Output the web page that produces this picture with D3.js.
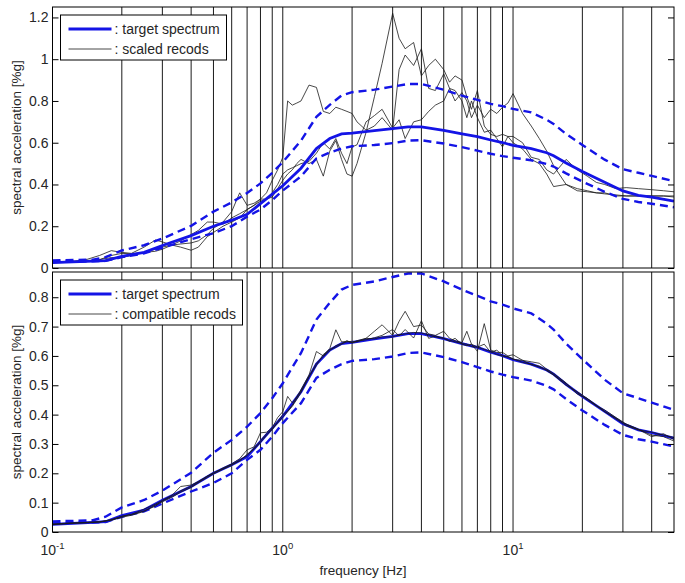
<!DOCTYPE html>
<html><head><meta charset="utf-8">
<script src="https://cdn.jsdelivr.net/npm/d3@7"></script>
<style>
html,body{margin:0;padding:0;background:#fff;}
svg{display:block;font-family:"Liberation Sans",Arial,Helvetica,sans-serif;}
</style></head>
<body>
<svg id="chart" width="685" height="583"></svg>
<script>
// ---------------- data ----------------
const freqTarget = [0.1,0.15,0.17,0.2,0.25,0.3,0.4,0.5,0.6,0.7,0.8,0.9,1.0,1.2,1.4,1.6,1.8,2.0,2.5,3.0,3.5,4.0,5,6,7,8,9,10,12,14,15,17,20,25,30,35,40,50];
const target = [0.026,0.033,0.035,0.056,0.075,0.108,0.155,0.2,0.229,0.257,0.308,0.354,0.394,0.478,0.572,0.62,0.642,0.646,0.658,0.667,0.676,0.676,0.659,0.642,0.629,0.613,0.601,0.587,0.572,0.552,0.538,0.503,0.462,0.411,0.369,0.348,0.339,0.32];
const upperBound = [0.036,0.04,0.052,0.084,0.109,0.141,0.202,0.27,0.314,0.359,0.405,0.456,0.507,0.61,0.724,0.781,0.826,0.842,0.854,0.869,0.881,0.881,0.854,0.826,0.805,0.786,0.775,0.762,0.745,0.71,0.69,0.642,0.589,0.519,0.473,0.456,0.441,0.416];
const lowerBound = [0.03,0.032,0.034,0.052,0.07,0.097,0.138,0.167,0.2,0.246,0.28,0.325,0.371,0.439,0.525,0.553,0.572,0.583,0.589,0.598,0.61,0.612,0.596,0.579,0.562,0.547,0.536,0.528,0.516,0.498,0.486,0.453,0.414,0.365,0.331,0.316,0.308,0.291];

const freqRec = [0.1,0.12,0.14,0.16,0.18,0.2,0.22,0.25,0.28,0.3,0.33,0.36,0.4,0.43,0.47,0.5,0.55,0.6,0.65,0.7,0.75,0.8,0.85,0.9,0.95,1.0,1.05,1.1,1.15,1.2,1.3,1.4,1.5,1.6,1.7,1.8,1.9,2.0,2.1,2.3,2.5,2.7,3.0,3.2,3.4,3.7,4.0,4.3,4.6,5.0,5.3,5.6,6.0,6.3,6.6,7.0,7.5,8.0,8.5,9.0,9.5,10,11,12,13,14,15,17,19,21,23,25,28,31,35,40,45,50];

// scaled records (top panel)
const scaledA = [0.025,0.027,0.03,0.04,0.06,0.07,0.068,0.075,0.09,0.1,0.11,0.115,0.12,0.13,0.16,0.19,0.22,0.27,0.36,0.30,0.31,0.33,0.36,0.42,0.47,0.53,0.80,0.78,0.79,0.80,0.876,0.865,0.75,0.74,0.77,0.76,0.75,0.74,0.70,0.66,0.68,0.72,0.66,0.95,1.02,0.97,1.05,0.86,0.85,0.93,0.86,0.80,0.84,0.80,0.72,0.78,0.72,0.76,0.74,0.77,0.79,0.835,0.74,0.68,0.62,0.56,0.49,0.40,0.38,0.37,0.36,0.355,0.35,0.345,0.345,0.345,0.345,0.34];
const scaledB = [0.025,0.03,0.04,0.06,0.083,0.075,0.07,0.1,0.134,0.125,0.11,0.1,0.085,0.1,0.15,0.17,0.2,0.22,0.24,0.28,0.30,0.32,0.33,0.34,0.38,0.42,0.45,0.47,0.50,0.52,0.50,0.52,0.44,0.56,0.61,0.52,0.45,0.44,0.50,0.65,0.82,0.98,1.22,1.10,1.05,1.08,0.92,0.97,1.0,0.95,0.89,0.92,0.90,0.82,0.76,0.85,0.68,0.64,0.63,0.64,0.63,0.63,0.60,0.53,0.52,0.47,0.45,0.52,0.47,0.44,0.41,0.40,0.38,0.385,0.38,0.375,0.37,0.365];
const scaledC = [0.03,0.032,0.035,0.04,0.05,0.05,0.06,0.075,0.08,0.09,0.11,0.13,0.16,0.18,0.22,0.22,0.21,0.24,0.26,0.28,0.30,0.33,0.33,0.36,0.40,0.45,0.47,0.48,0.49,0.50,0.51,0.55,0.60,0.57,0.62,0.55,0.50,0.58,0.59,0.70,0.73,0.76,0.67,0.71,0.62,0.70,0.71,0.75,0.78,0.80,0.86,0.85,0.80,0.72,0.80,0.72,0.65,0.66,0.62,0.58,0.63,0.60,0.57,0.52,0.50,0.45,0.39,0.40,0.37,0.365,0.36,0.36,0.345,0.345,0.345,0.345,0.345,0.345];

// compatible records (bottom panel)
const compatA = [0.026,0.03,0.032,0.035,0.042,0.054,0.06,0.078,0.095,0.108,0.125,0.155,0.16,0.172,0.19,0.2,0.218,0.232,0.25,0.28,0.29,0.338,0.34,0.355,0.39,0.41,0.462,0.44,0.46,0.485,0.535,0.615,0.60,0.625,0.689,0.648,0.65,0.645,0.652,0.66,0.684,0.706,0.67,0.718,0.752,0.70,0.705,0.675,0.67,0.684,0.66,0.652,0.645,0.684,0.64,0.616,0.71,0.62,0.612,0.612,0.6,0.604,0.585,0.58,0.575,0.555,0.54,0.508,0.47,0.455,0.43,0.416,0.39,0.368,0.35,0.325,0.335,0.315];
const compatB = [0.025,0.029,0.031,0.034,0.04,0.05,0.057,0.07,0.092,0.103,0.118,0.136,0.152,0.168,0.186,0.198,0.214,0.227,0.245,0.26,0.286,0.31,0.335,0.35,0.376,0.40,0.412,0.432,0.458,0.48,0.53,0.568,0.605,0.622,0.63,0.64,0.652,0.644,0.65,0.655,0.662,0.67,0.69,0.668,0.69,0.661,0.72,0.66,0.668,0.66,0.65,0.66,0.64,0.635,0.64,0.63,0.64,0.612,0.62,0.6,0.598,0.59,0.578,0.572,0.562,0.552,0.536,0.505,0.475,0.45,0.43,0.41,0.385,0.362,0.348,0.34,0.33,0.322];
const compatC = [0.027,0.031,0.033,0.034,0.041,0.053,0.059,0.072,0.088,0.106,0.122,0.14,0.156,0.17,0.19,0.202,0.216,0.23,0.242,0.265,0.282,0.305,0.33,0.35,0.372,0.392,0.41,0.428,0.452,0.476,0.528,0.575,0.598,0.618,0.635,0.642,0.648,0.65,0.648,0.66,0.658,0.665,0.665,0.672,0.675,0.68,0.678,0.672,0.665,0.66,0.652,0.648,0.642,0.64,0.632,0.63,0.622,0.615,0.605,0.6,0.596,0.588,0.585,0.57,0.565,0.55,0.535,0.5,0.478,0.455,0.432,0.41,0.388,0.366,0.35,0.33,0.325,0.31];

const gridFreqs = [0.2,0.3,0.4,0.5,0.6,0.7,0.8,0.9,1,2,3,4,5,6,7,8,9,10,20,30,40];
const xTickVals = [0.1,1,10];
const xTickExp = ["-1","0","1"];
const yTicksTop = [0,0.2,0.4,0.6,0.8,1,1.2];
const yTicksBot = [0,0.1,0.2,0.3,0.4,0.5,0.6,0.7,0.8];
const legendTop = [": target spectrum", ": scaled recods"];
const legendBot = [": target spectrum", ": compatible recods"];

// ---------------- drawing ----------------
const svg = d3.select("#chart");
const BLUE = "#1414e6";
const TXT = "#262626";
const FS = "14px";
const L = 52.5, R = 674;
const x = d3.scaleLog().domain([0.1, 50]).range([L, R]);

function zip(fr, vals){ return fr.map((f,i)=>[f, vals[i]]); }

function panel(id, top, bottom, yMax, yTicks, records, legendText, legendW, recordsOnTop){
  const y = d3.scaleLinear().domain([0, yMax]).range([bottom, top]);
  const g = svg.append("g");
  g.append("clipPath").attr("id", "clip"+id).append("rect")
    .attr("x", L).attr("y", top).attr("width", R-L).attr("height", bottom-top);

  // vertical grid
  g.append("g").selectAll("line").data(gridFreqs).join("line")
    .attr("x1", d=>x(d)).attr("x2", d=>x(d)).attr("y1", top).attr("y2", bottom)
    .attr("stroke", "#000").attr("stroke-width", 0.9);

  const line = d3.line().x(d=>x(d[0])).y(d=>y(d[1]));
  const plot = g.append("g").attr("clip-path", `url(#clip${id})`);

  function drawRecords(){
    records.forEach(r=>{
      plot.append("path").datum(zip(freqRec, r)).attr("d", line)
        .attr("fill","none").attr("stroke","#1a1a1a").attr("stroke-width",0.8)
        .attr("stroke-linejoin","round");
    });
  }
  if(!recordsOnTop) drawRecords();
  [upperBound, lowerBound].forEach(b=>{
    plot.append("path").datum(zip(freqTarget, b)).attr("d", line)
      .attr("fill","none").attr("stroke",BLUE).attr("stroke-width",2.4)
      .attr("stroke-dasharray","8,5");
  });
  plot.append("path").datum(zip(freqTarget, target)).attr("d", line)
    .attr("fill","none").attr("stroke",BLUE).attr("stroke-width",2.8);
  if(recordsOnTop) drawRecords();

  // frame
  g.append("rect").attr("x", L).attr("y", top).attr("width", R-L).attr("height", bottom-top)
    .attr("fill","none").attr("stroke","#000").attr("stroke-width",1);

  // y axes (ticks inside)
  const yl = g.append("g").attr("transform", `translate(${L},0)`)
    .call(d3.axisLeft(y).tickValues(yTicks).tickSize(-6).tickPadding(4).tickFormat(d3.format("~g")));
  yl.select(".domain").remove();
  yl.selectAll("line").attr("stroke","#000");
  yl.selectAll("text").attr("fill",TXT).style("font-size",FS).style("font-family","Liberation Sans, Arial, sans-serif");
  const yr = g.append("g").attr("transform", `translate(${R},0)`)
    .call(d3.axisRight(y).tickValues(yTicks).tickSize(-6).tickFormat(""));
  yr.select(".domain").remove();
  yr.selectAll("line").attr("stroke","#000");

  // y label
  g.append("text").attr("transform", `translate(21,${(top+bottom)/2}) rotate(-90)`)
    .attr("text-anchor","middle").attr("fill",TXT).style("font-size","13.5px")
    .text("spectral acceleration [%g]");

  // legend
  const lx = 60.5, ly = top + 8;
  const lg = g.append("g");
  lg.append("rect").attr("x", lx).attr("y", ly).attr("width", legendW).attr("height", 45)
    .attr("fill","#fff").attr("stroke","#000").attr("stroke-width",1);
  lg.append("line").attr("x1", lx+8).attr("x2", lx+51).attr("y1", ly+14).attr("y2", ly+14)
    .attr("stroke",BLUE).attr("stroke-width",3.2);
  lg.append("line").attr("x1", lx+8).attr("x2", lx+51).attr("y1", ly+34).attr("y2", ly+34)
    .attr("stroke","#1a1a1a").attr("stroke-width",0.8);
  legendText.forEach((t,i)=>{
    lg.append("text").attr("x", lx+54).attr("y", ly+14+i*20).attr("dy","0.35em")
      .attr("fill",TXT).style("font-size","14px").text(t);
  });
  return y;
}

panel("t", 7, 268, 1.25, yTicksTop, [scaledA, scaledB, scaledC], legendTop, 166, false);
panel("b", 272, 532, 0.886, yTicksBot, [compatA, compatB, compatC], legendBot, 182, true);

// x tick labels (bottom panel)
xTickVals.forEach((v,i)=>{
  const t = svg.append("text").attr("x", x(v)).attr("y", 555)
    .attr("text-anchor","middle").attr("fill",TXT).style("font-size",FS);
  t.append("tspan").text("10");
  t.append("tspan").attr("dy","-6").style("font-size","9.5px").text(xTickExp[i]);
});
svg.append("text").attr("x", 363).attr("y", 575).attr("text-anchor","middle")
  .attr("fill",TXT).style("font-size","13.5px").text("frequency [Hz]");
</script>
</body></html>
